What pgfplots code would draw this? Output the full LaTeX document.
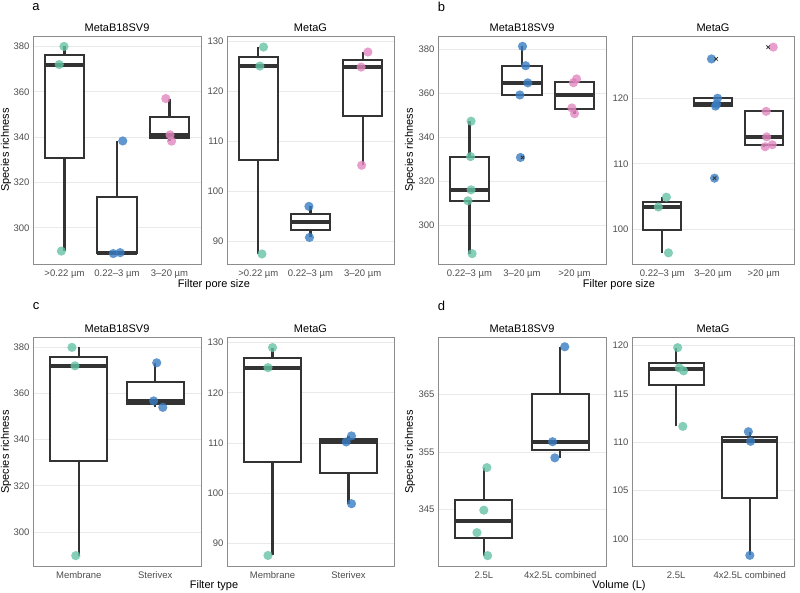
\documentclass[border=0pt]{standalone}
\usepackage{fontspec}
\setmainfont{Liberation Sans}
\usepackage{pgfplots}
\pgfplotsset{compat=1.18}

\definecolor{mgreen}{RGB}{102,194,165}
\definecolor{mblue}{RGB}{58,125,195}
\definecolor{mpink}{RGB}{226,135,192}
\definecolor{boxgray}{RGB}{51,51,51}
\definecolor{framegray}{RGB}{140,140,140}
\definecolor{gridgray}{RGB}{233,233,233}
\definecolor{ticgray}{RGB}{77,77,77}

\pgfplotsset{
  rich/.style={
    scale only axis, anchor=north west,
    axis line style={draw=framegray, line width=0.7pt},
    ymajorgrids, grid style={draw=gridgray, line width=0.7pt},
    tick style={draw=none},
    tick label style={font=\fontsize{9.5}{10}\selectfont, text=ticgray},
    xticklabel style={yshift=-2pt},
    /pgf/number format/assume math mode=true,
    title style={font=\fontsize{11}{12}\selectfont, yshift=-5pt},
    xtick={1,2,3},
  },
  whisk/.style={draw=boxgray, line width=2.2pt, mark=none},
  boxs/.style={draw=boxgray, fill=white, line width=2pt, mark=none},
  med/.style={draw=boxgray, line width=4pt, mark=none},
  pts/.style={only marks, mark=*, mark size=4.6pt,
    mark options={#1, draw opacity=0, fill opacity=0.8}},
  outl/.style={only marks, mark=x, mark size=2.4pt,
    mark options={draw=boxgray, line width=0.8pt}},
}
% box: left, right, centre, lower whisker, Q1, median, Q3, upper whisker
\newcommand\bx[8]{%
  \addplot[whisk] coordinates {(#3,#4) (#3,#5)};
  \addplot[whisk] coordinates {(#3,#7) (#3,#8)};
  \addplot[boxs] coordinates {(#1,#5) (#2,#5) (#2,#7) (#1,#7)} -- cycle;
  \addplot[med] coordinates {(#1,#6) (#2,#6)};
}

\begin{document}
\begin{tikzpicture}
\useasboundingbox (0,0) rectangle (800pt,592pt);

% ---- a ----
\begin{axis}[rich, at={(33pt,556pt)}, width=168pt, height=228pt,
  title={MetaB18SV9}, xmin=0.4, xmax=3.6, ymin=284.0, ymax=384.6,
  ytick={300,320,340,360,380},
  xticklabels={{>0.22 µm},{0.22–3 µm},{3–20 µm}}]
\bx{0.625}{1.375}{1}{289.7}{330.85}{372}{376}{380}
\bx{1.625}{2.375}{2}{288.6}{288.8}{289}{313.65}{338.3}
\bx{2.625}{3.375}{3}{338.2}{339.6}{341}{349}{357}
\addplot[pts=mgreen] coordinates {(0.99,380) (0.90,372) (0.94,289.7)};
\addplot[pts=mblue] coordinates {(2.11,338.3) (1.93,288.6) (2.06,289.0)};
\addplot[pts=mpink] coordinates {(2.93,357) (3.01,341) (3.04,338.2)};
\end{axis}

\begin{axis}[rich, at={(227pt,556pt)}, width=167pt, height=228pt,
  title={MetaG}, xmin=0.4, xmax=3.6, ymin=85.5, ymax=131.0,
  ytick={90,100,110,120,130},
  xticklabels={{>0.22 µm},{0.22–3 µm},{3–20 µm}}]
\bx{0.625}{1.375}{1}{87.5}{106.25}{125.0}{126.9}{128.8}
\bx{1.625}{2.375}{2}{90.8}{92.35}{93.9}{95.45}{97.0}
\bx{2.625}{3.375}{3}{105.2}{115.0}{124.8}{126.3}{127.8}
\addplot[pts=mgreen] coordinates {(1.10,128.8) (1.03,125.0) (1.07,87.5)};
\addplot[pts=mblue] coordinates {(1.97,97.0) (1.98,90.8)};
\addplot[pts=mpink] coordinates {(3.10,127.8) (2.97,124.8) (2.98,105.2)};
\end{axis}

% ---- b ----
\begin{axis}[rich, at={(438pt,556pt)}, width=168pt, height=228pt,
  title={MetaB18SV9}, xmin=0.4, xmax=3.6, ymin=282.3, ymax=385.9,
  ytick={300,320,340,360,380},
  xticklabels={{0.22–3 µm},{3–20 µm},{>20 µm}}]
\bx{0.625}{1.375}{1}{287.0}{311.0}{316.0}{331.1}{347.2}
\bx{1.625}{2.375}{2}{359.1}{359.1}{364.6}{372.4}{381.2}
\bx{2.625}{3.375}{3}{350.6}{352.55}{358.95}{365.1}{366.4}
\addplot[pts=mgreen] coordinates {(1.03,347.2) (1.02,331.1) (1.03,316.0) (0.97,311.0) (1.05,287.0)};
\addplot[pts=mblue] coordinates {(2.01,381.2) (2.07,372.4) (2.11,364.6) (1.96,359.1) (1.97,330.7)};
\addplot[pts=mpink] coordinates {(3.04,366.4) (2.98,364.7) (2.95,353.2) (3.00,350.6)};
\addplot[outl] coordinates {(2.01,330.7)};
\end{axis}

\begin{axis}[rich, at={(632pt,556pt)}, width=162pt, height=228pt,
  title={MetaG}, xmin=0.4, xmax=3.6, ymin=94.7, ymax=129.5,
  ytick={100,110,120},
  xticklabels={{0.22–3 µm},{3–20 µm},{>20 µm}}]
\bx{0.625}{1.375}{1}{96.4}{99.9}{103.4}{104.15}{104.9}
\bx{1.625}{2.375}{2}{118.8}{118.8}{119.1}{120.0}{120.0}
\bx{2.625}{3.375}{3}{112.6}{112.9}{114.1}{118.0}{118.0}
\addplot[pts=mgreen] coordinates {(1.08,104.9) (0.92,103.4) (1.12,96.4)};
\addplot[pts=mblue] coordinates {(1.97,126.0) (2.09,120.0) (2.07,119.1) (2.05,118.8) (2.03,107.8)};
\addplot[pts=mpink] coordinates {(3.19,127.8) (3.05,118.0) (3.06,114.1) (3.03,112.6) (3.17,112.9)};
\addplot[outl] coordinates {(2.06,126.0) (2.03,107.8) (3.09,127.8)};
\end{axis}

% ---- c ----
\begin{axis}[rich, at={(33pt,255pt)}, width=168pt, height=229pt,
  title={MetaB18SV9}, xmin=0.4, xmax=2.6, ymin=285.2, ymax=384.5,
  ytick={300,320,340,360,380},
  xticklabels={Membrane,Sterivex}]
\bx{0.625}{1.375}{1}{289.7}{330.85}{372}{376}{380}
\bx{1.625}{2.375}{2}{354.0}{355.4}{356.8}{365.05}{373.3}
\addplot[pts=mgreen] coordinates {(0.91,380) (0.95,372) (0.96,289.7)};
\addplot[pts=mblue] coordinates {(2.02,373.3) (1.98,356.8) (2.10,354.0)};
\end{axis}

\begin{axis}[rich, at={(227pt,255pt)}, width=167pt, height=229pt,
  title={MetaG}, xmin=0.4, xmax=2.6, ymin=85.5, ymax=131.1,
  ytick={90,100,110,120,130},
  xticklabels={Membrane,Sterivex}]
\bx{0.625}{1.375}{1}{87.6}{106.3}{125.0}{127.0}{129.0}
\bx{1.625}{2.375}{2}{97.9}{104.05}{110.2}{110.8}{111.4}
\addplot[pts=mgreen] coordinates {(1.00,129.0) (0.94,125.0) (0.94,87.6)};
\addplot[pts=mblue] coordinates {(2.04,111.4) (1.97,110.2) (2.04,97.9)};
\end{axis}

% ---- d ----
\begin{axis}[rich, at={(438pt,255pt)}, width=168pt, height=229pt,
  title={MetaB18SV9}, xmin=0.4, xmax=2.6, ymin=335.2, ymax=375.0,
  ytick={345,355,365},
  xticklabels={2.5L,4x2.5L combined}]
\bx{0.625}{1.375}{1}{337.0}{340.0}{342.95}{346.75}{352.3}
\bx{1.625}{2.375}{2}{354.0}{355.4}{356.8}{365.05}{373.3}
\addplot[pts=mgreen] coordinates {(1.04,352.3) (1.00,344.9) (0.91,341.0) (1.05,337.0)};
\addplot[pts=mblue] coordinates {(2.06,373.3) (1.90,356.8) (1.93,354.0)};
\end{axis}

\begin{axis}[rich, at={(632pt,255pt)}, width=162pt, height=229pt,
  title={MetaG}, xmin=0.4, xmax=2.6, ymin=97.2, ymax=120.9,
  ytick={100,105,110,115,120},
  xticklabels={2.5L,4x2.5L combined}]
\bx{0.625}{1.375}{1}{111.65}{115.96}{117.55}{118.2}{119.8}
\bx{1.625}{2.375}{2}{98.3}{104.2}{110.1}{110.6}{111.1}
\addplot[pts=mgreen] coordinates {(1.02,119.8) (1.04,117.7) (1.10,117.4) (1.09,111.65)};
\addplot[pts=mblue] coordinates {(1.98,111.1) (2.01,110.1) (2.00,98.3)};
\end{axis}

% panel letters and axis titles
\begin{scope}[every node/.style={font=\fontsize{13}{14}\selectfont}]
\node at (36pt,585pt) {a};
\node at (441.5pt,585pt) {b};
\node at (36pt,286pt) {c};
\node at (441.5pt,286pt) {d};
\end{scope}
\begin{scope}[every node/.style={font=\fontsize{11}{12}\selectfont}]
\node at (214pt,307pt) {Filter pore size};
\node at (619pt,307pt) {Filter pore size};
\node at (214pt,6pt) {Filter type};
\node at (619pt,6pt) {Volume (L)};
\node[rotate=90] at (6pt,442pt) {Species richness};
\node[rotate=90] at (410pt,442pt) {Species richness};
\node[rotate=90] at (6pt,140pt) {Species richness};
\node[rotate=90] at (410pt,140pt) {Species richness};
\end{scope}
\end{tikzpicture}
\end{document}
